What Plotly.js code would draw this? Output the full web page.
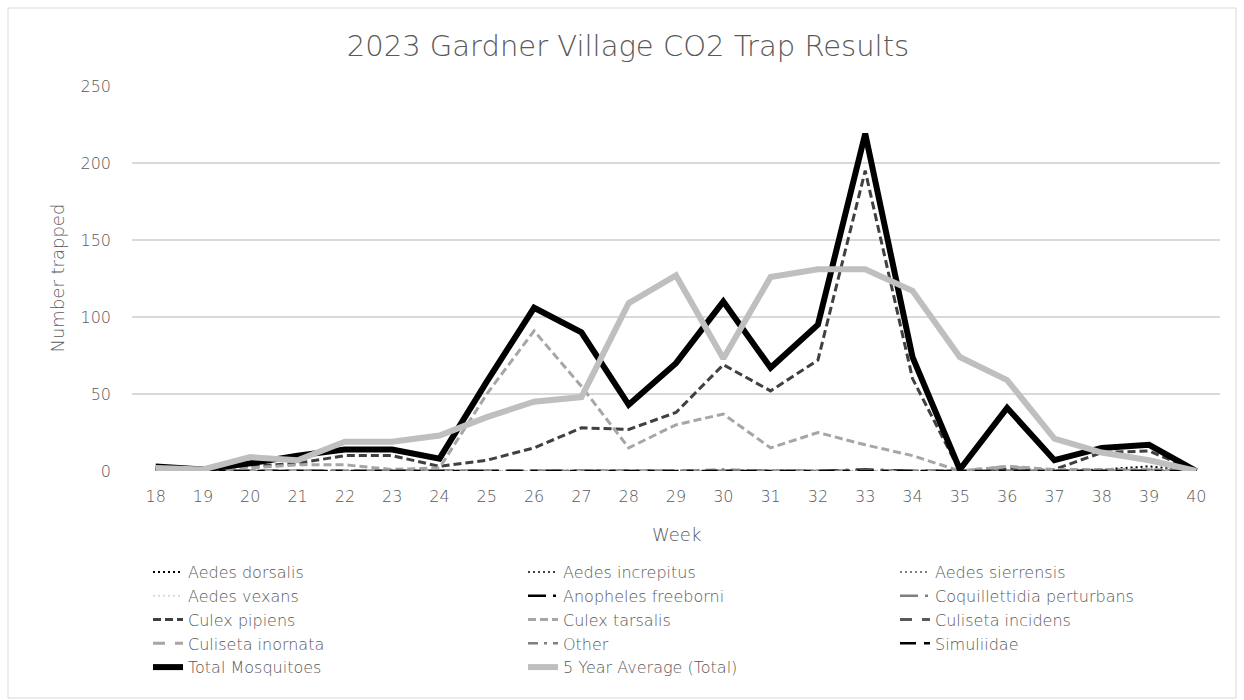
<!DOCTYPE html>
<html>
<head>
<meta charset="utf-8">
<script src="https://cdn.plot.ly/plotly-3.0.1.min.js"></script>
<style>
html,body{margin:0;padding:0;background:#fff;}
#chart{width:1244px;height:700px;}
</style>
</head>
<body>
<div id="chart"></div>
<script>
const weeks = [18,19,20,21,22,23,24,25,26,27,28,29,30,31,32,33,34,35,36,37,38,39,40];

const aedesDorsalis      = [0,0,0,0,0,0,0,0,0,0,0,0,0,0,0,0,0,0,0,0,1,3,0];
const aedesIncrepitus    = [0,0,0,0,0,0,0,0,0,0,0,0,0,0,0,0,0,0,0,0,0,1,0];
const aedesSierrensis    = [0,0,0,0,0,0,0,0,0,0,0,0,0,0,0,0,0,0,0,0,0,0,0];
const aedesVexans        = [0,0,0,0,0,0,0,0,0,0,0,0,0,0,0,0,0,0,0,0,0,0,0];
const anophelesFreeborni = [0,0,0,0,0,0,0,0,0,0,0,0,0,0,0,1,0,0,0,0,0,0,0];
const coquillettidia     = [0,0,0,0,0,0,0,0,0,0,0,0,0,0,0,0,0,0,0,0,0,0,0];
const culexPipiens       = [1,1,3,5,10,10,3,7,15,28,27,38,69,52,72,195,60,0,1,1,12,13,0];
const culexTarsalis      = [1,1,2,4,4,1,2,50,91,55,15,30,37,15,25,17,10,0,3,1,1,1,0];
const culisetaIncidens   = [0,0,0,0,0,0,0,0,0,0,0,0,0,0,0,0,0,0,0,0,0,0,0];
const culisetaInornata   = [0,0,0,0,0,0,0,0,0,0,0,0,0,0,0,0,0,0,3,0,0,0,0];
const other              = [0,0,0,0,0,0,0,0,0,0,0,0,1,0,0,0,0,0,0,0,0,0,0];
const simuliidae         = [0,0,0,0,0,0,0,0,0,0,0,0,0,0,0,0,0,0,0,0,0,0,0];
const totalMosquitoes    = [3,1,5,10,14,14,8,58,106,90,43,70,110,67,95,219,74,1,41,7,15,17,0];
const fiveYearAverage    = [2,1,9,7,19,19,23,35,45,48,109,127,73,126,131,131,117,74,59,21,12,7,0];

const yTicks = [0,50,100,150,200,250];

const FONT = '"DejaVu Sans", "Open Sans", sans-serif';
const TXT = '#595959';

function tr(name, y, color, width, dash, legend) {
  return {
    type: 'scatter', mode: 'lines', name: name, x: weeks, y: y,
    line: {color: color, width: width, dash: dash},
    legend: legend,
    hoverinfo: 'x+y+name'
  };
}

const data = [
  tr('Aedes dorsalis', aedesDorsalis, '#000000', 2, '2px,3px', 'legend'),
  tr('Aedes increpitus', aedesIncrepitus, '#404040', 2, '2px,3px', 'legend2'),
  tr('Aedes sierrensis', aedesSierrensis, '#7f7f7f', 2, '2px,3px', 'legend3'),
  tr('Aedes vexans', aedesVexans, '#d9d9d9', 2, '2px,3px', 'legend'),
  tr('Anopheles freeborni', anophelesFreeborni, '#000000', 2.5, '18px,7px,3px,7px', 'legend2'),
  tr('Coquillettidia perturbans', coquillettidia, '#7f7f7f', 2.5, '18px,7px,3px,7px', 'legend3'),
  tr('Culex pipiens', culexPipiens, '#404040', 3, '8px,4px', 'legend'),
  tr('Culex tarsalis', culexTarsalis, '#a6a6a6', 3, '8px,4px', 'legend2'),
  tr('Culiseta incidens', culisetaIncidens, '#595959', 3, '12px,10px', 'legend3'),
  tr('Culiseta inornata', culisetaInornata, '#a6a6a6', 3, '12px,10px', 'legend'),
  tr('Other', other, '#7f7f7f', 2.5, '10px,6px,3px,6px', 'legend2'),
  tr('Simuliidae', simuliidae, '#000000', 2.5, '16px,8px,7px,8px', 'legend3'),
  tr('Total Mosquitoes', totalMosquitoes, '#000000', 6, 'solid', 'legend'),
  tr('5 Year Average (Total)', fiveYearAverage, '#bfbfbf', 6, 'solid', 'legend2')
];

function legendAt(xpx) {
  return {
    orientation: 'v', xref: 'container', yref: 'container',
    x: xpx/1244, xanchor: 'left', y: 1 - 555/700, yanchor: 'top',
    font: {family: FONT, size: 16, color: TXT, weight: 200},
    bgcolor: 'rgba(0,0,0,0)', traceorder: 'normal', tracegroupgap: 0
  };
}

const layout = {
  width: 1244, height: 700,
  margin: {l: 132, r: 24, t: 86, b: 229, autoexpand: false},
  paper_bgcolor: '#ffffff', plot_bgcolor: '#ffffff',
  font: {family: FONT, color: TXT, size: 16, weight: 200},
  title: {
    text: '2023 Gardner Village CO2 Trap Results',
    font: {family: FONT, size: 29, color: TXT, weight: 200},
    x: 628/1244, xref: 'container', xanchor: 'center',
    y: 1 - 46/700, yref: 'container', yanchor: 'middle'
  },
  xaxis: {
    type: 'linear', range: [17.5, 40.5], tickmode: 'array', tickvals: weeks,
    ticktext: weeks.map(String),
    showgrid: false, zeroline: false, showline: false, ticks: '',
    ticklabelstandoff: 14,
    tickfont: {family: FONT, size: 16, color: TXT, weight: 200},
    fixedrange: true
  },
  yaxis: {
    range: [0, 250], tickmode: 'array', tickvals: yTicks,
    showgrid: true, gridcolor: '#d9d9d9', gridwidth: 1.5,
    zeroline: false, showline: false, ticks: '',
    ticklabelstandoff: 20,
    tickfont: {family: FONT, size: 16, color: TXT, weight: 200},
    fixedrange: true
  },
  annotations: [
    {text: 'Week', xref: 'paper', yref: 'paper', x: 0.5, xanchor: 'center',
     y: -(534-471)/385, yanchor: 'middle', showarrow: false,
     font: {family: FONT, size: 18, color: TXT, weight: 200}},
    {text: 'Number trapped', xref: 'paper', yref: 'paper', x: (57-132)/1088, xanchor: 'center',
     y: 0.5, yanchor: 'middle', showarrow: false, textangle: -90,
     font: {family: FONT, size: 18, color: TXT, weight: 200}}
  ],
  showlegend: true,
  legend: legendAt(148),
  legend2: legendAt(523),
  legend3: legendAt(895),
  shapes: [{
    type: 'rect', xref: 'paper', yref: 'paper',
    x0: (8-132)/1088, x1: (1236-132)/1088,
    y0: (471-698)/385, y1: (471-8)/385,
    line: {color: '#d9d9d9', width: 1}, fillcolor: 'rgba(0,0,0,0)', layer: 'below'
  }]
};

Plotly.newPlot('chart', data, layout, {displayModeBar: false, staticPlot: true});
</script>
</body>
</html>
